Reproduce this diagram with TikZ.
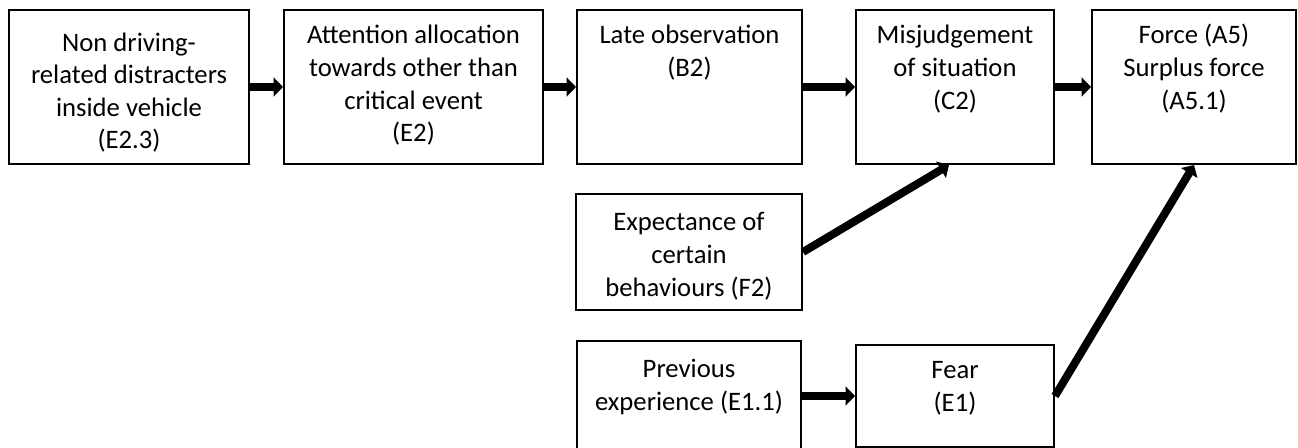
\documentclass[tikz,border=0pt]{standalone}
\usepackage{fontspec}
\setmainfont{Carlito}
\usepackage{tikz}
\usetikzlibrary{arrows.meta}

\begin{document}
\begin{tikzpicture}[x=.75pt, y=-.75pt,
        box/.style n args={3}{draw, line width=1.5pt, anchor=north west, inner sep=0pt, align=flush center,
            text width=#1, text height=#2, text depth=#3, font=\fontsize{20}{24.4}\selectfont},
        flow/.style={line width=6pt, -{Triangle[length=7pt, width=14pt]}}]
        \useasboundingbox(0, 0)rectangle(1298, 448);
        % top row
        \node[box={180pt}{31pt}{84.5pt}](distract)at(8, 9){Non driving-\\related distracters\\inside vehicle\\(E2.3)};
        \node[box={194.25pt}{25.5pt}{90pt}](attention)at(283, 9){Attention allocation\\towards other than\\critical event\\(E2)};
        \node[box={168.75pt}{25.5pt}{90pt}](late)at(576, 9){Late observation\\(B2)};
        \node[box={148.5pt}{25.5pt}{90pt}](misjudge)at(855, 9){Misjudgement\\of situation\\(C2)};
        \node[box={153pt}{25.5pt}{90pt}](force)at(1091, 9){Force (A5)\\Surplus force\\(A5.1)};
        % lower boxes (previous runs off the bottom edge)
        \node[box={169.5pt}{27.75pt}{59.25pt}](expect)at(575, 193){Expectance of\\certain\\behaviours (F2)};
        \node[box={168pt}{27.75pt}{64pt}](previous)at(576, 340){Previous\\experience (E1.1)};
        \node[box={148.5pt}{25.5pt}{51pt}](fear)at(855, 344){Fear\\(E1)};
        \draw[flow](distract)--(attention);
        \draw[flow](attention)--(late);
        \draw[flow](late)--(misjudge);
        \draw[flow](misjudge)--(force);
        \draw[flow](previous.east|-fear.east)--(fear.east-|fear.west);
        \draw[flow](expect.east)--([xshift=-4.5pt]misjudge.south);
        \draw[flow](fear.east)--(force.south);
    \end{tikzpicture}
\end{document}
